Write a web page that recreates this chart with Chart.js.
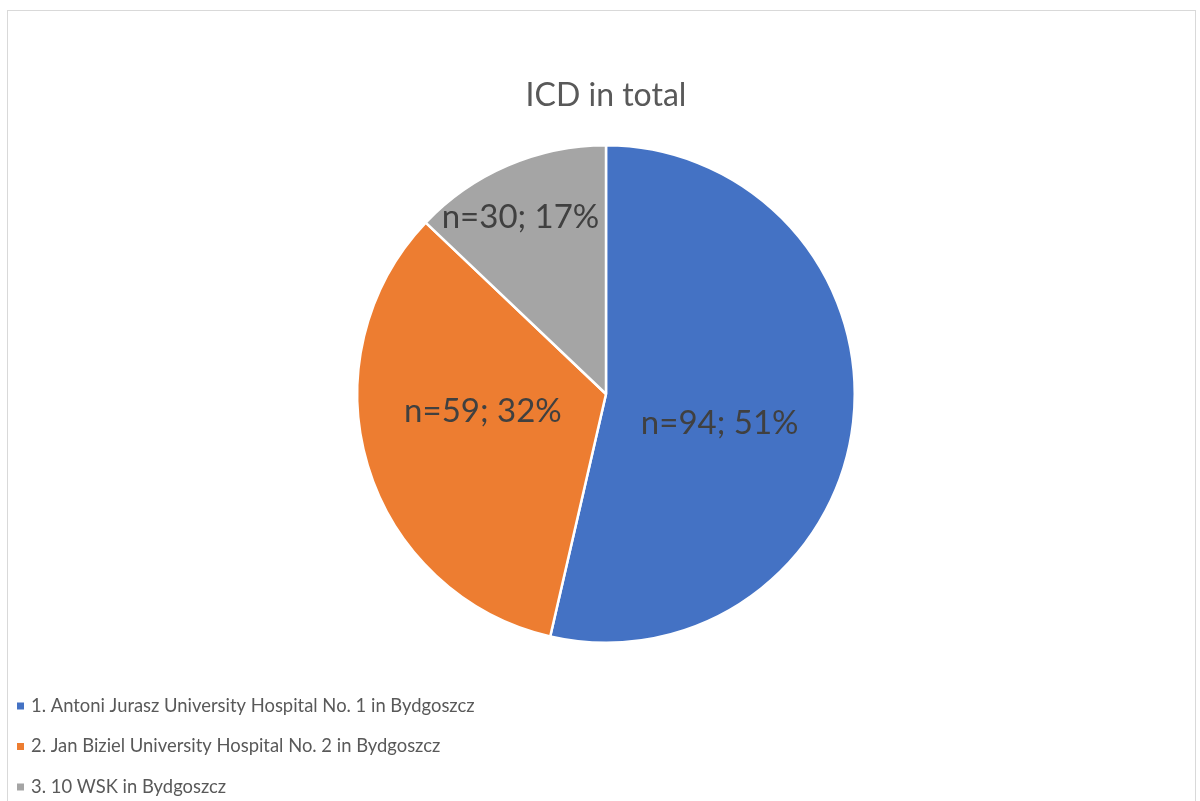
<!DOCTYPE html>
<html>
<head>
<meta charset="utf-8">
<script src="https://cdn.jsdelivr.net/npm/chart.js@4.4.0/dist/chart.umd.min.js"></script>
<style>
  html, body { margin: 0; padding: 0; background: #ffffff; }
  #wrap { position: relative; width: 1200px; height: 801px; overflow: hidden; }
  #frame { position: absolute; left: 7px; top: 10px; width: 1189px; height: 820px; border: 1px solid #d9d9d9; box-sizing: border-box; pointer-events: none; }
  canvas { position: absolute; left: 0; top: 0; }
</style>
</head>
<body>
<div id="wrap">
  <div id="frame"></div>
  <canvas id="c" width="1200" height="801"></canvas>
</div>
<script>
// ---- data ----
const chartTitle = 'ICD in total';
const categories = [
  '1. Antoni Jurasz University Hospital No. 1 in Bydgoszcz',
  '2. Jan Biziel University Hospital No. 2 in Bydgoszcz',
  '3. 10 WSK in Bydgoszcz'
];
// slice shares as drawn in the picture (percent of circle)
const sliceShares = [53.6, 33.5, 12.9];
const counts = [94, 59, 30];
const percentLabels = ['51%', '32%', '17%'];
const sliceColors = ['#4472C4', '#ED7D31', '#A5A5A5'];

const FONT = 'Lato, "Open Sans", "DejaVu Sans", sans-serif';

const sliceLabelPlugin = {
  id: 'sliceLabels',
  afterDatasetsDraw(chart, args, opts) {
    const ctx = chart.ctx;
    const meta = chart.getDatasetMeta(0);
    ctx.save();
    ctx.font = opts.fontSize + 'px ' + FONT;
    ctx.fillStyle = opts.color;
    ctx.textAlign = 'center';
    ctx.textBaseline = 'middle';
    meta.data.forEach((arc, i) => {
      const p = arc.getProps(['x', 'y', 'startAngle', 'endAngle', 'outerRadius'], true);
      const mid = (p.startAngle + p.endAngle) / 2;
      const f = opts.radialFractions[i];
      const x = p.x + Math.cos(mid) * p.outerRadius * f + opts.shiftX[i];
      const y = p.y + Math.sin(mid) * p.outerRadius * f + opts.shiftY[i];
      ctx.fillText('n=' + counts[i] + '; ' + percentLabels[i], x, y);
    });
    ctx.restore();
  }
};

const legendPlugin = {
  id: 'listLegend',
  afterDraw(chart, args, opts) {
    const ctx = chart.ctx;
    ctx.save();
    ctx.font = opts.fontSize + 'px ' + FONT;
    ctx.textBaseline = 'middle';
    ctx.textAlign = 'left';
    chart.data.labels.forEach((lab, i) => {
      const y = opts.top + i * opts.rowGap;
      ctx.fillStyle = chart.data.datasets[0].backgroundColor[i];
      ctx.fillRect(opts.left, y - opts.box / 2, opts.box, opts.box);
      ctx.fillStyle = opts.color;
      ctx.fillText(lab, opts.left + opts.box + opts.gap, y);
    });
    ctx.restore();
  }
};

new Chart(document.getElementById('c'), {
  type: 'pie',
  data: {
    labels: categories,
    datasets: [{
      data: sliceShares,
      backgroundColor: sliceColors,
      borderColor: '#ffffff',
      borderWidth: 2.5
    }]
  },
  options: {
    responsive: false,
    animation: false,
    layout: { padding: { left: 12, right: 0, top: 0, bottom: 157 } },
    plugins: {
      legend: { display: false },
      tooltip: { enabled: false },
      title: {
        display: true,
        text: chartTitle,
        color: '#595959',
        font: { family: FONT, size: 32, weight: 'normal' },
        padding: { top: 76, bottom: 29.6 }
      },
      sliceLabels: {
        fontSize: 33,
        color: '#404040',
        radialFractions: [0.46, 0.5, 0.78],
        shiftX: [0, -4, -9],
        shiftY: [16, -18, 2]
      },
      listLegend: {
        left: 17, box: 7, gap: 7, top: 706, rowGap: 40.5,
        fontSize: 18.4, color: '#595959'
      }
    }
  },
  plugins: [sliceLabelPlugin, legendPlugin]
});
</script>
</body>
</html>
